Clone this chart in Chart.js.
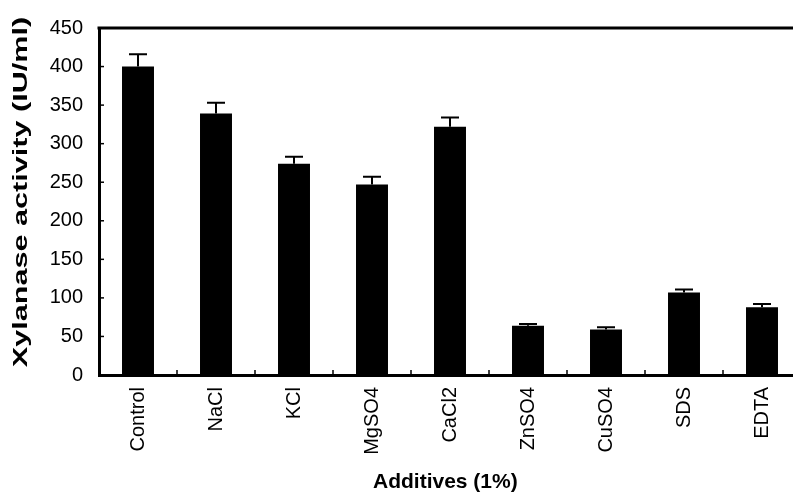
<!DOCTYPE html>
<html>
<head>
<meta charset="utf-8">
<script src="https://cdn.jsdelivr.net/npm/chart.js@4.4.1/dist/chart.umd.min.js"></script>
<style>
  html, body { margin: 0; padding: 0; background: #fff; overflow: hidden; }
  #wrap { width: 793px; height: 493px; overflow: hidden; }
</style>
</head>
<body>
<div id="wrap"><canvas id="chart" width="810" height="493"></canvas></div>
<script>
// ─── Data ─────────────────────────────────────────────────────────────────────
const categories = ['Control', 'NaCl', 'KCl', 'MgSO4', 'CaCl2', 'ZnSO4', 'CuSO4', 'SDS', 'EDTA'];
const activity   = [400, 339, 274, 247, 322, 64, 59, 107, 88];
const errorUp    = [16, 14, 9, 10, 12, 2, 3, 4, 4];
const yMax = 450;
const yStep = 50;

const FONT = '"Liberation Sans", Arial, sans-serif';

// ─── Error bars, inner tick marks, frame and titles ───────────────────────────
const decorations = {
  id: 'decorations',
  afterDatasetsDraw(chart) {
    const { ctx, chartArea: a, scales: { x, y } } = chart;
    const meta = chart.getDatasetMeta(0);
    ctx.save();
    ctx.strokeStyle = '#000';

    // error bars (upper only)
    ctx.lineWidth = 2;
    meta.data.forEach((bar, i) => {
      const top = y.getPixelForValue(activity[i] + errorUp[i]);
      ctx.beginPath();
      ctx.moveTo(bar.x, bar.y);
      ctx.lineTo(bar.x, top);
      ctx.moveTo(bar.x - 9, top);
      ctx.lineTo(bar.x + 9, top);
      ctx.stroke();
    });

    // inner ticks on y axis
    ctx.lineWidth = 1.5;
    y.ticks.forEach(t => {
      const py = y.getPixelForValue(t.value);
      ctx.beginPath();
      ctx.moveTo(a.left, py);
      ctx.lineTo(a.left + 5, py);
      ctx.stroke();
    });

    // inner ticks on x axis, between categories
    const half = (x.getPixelForValue(1) - x.getPixelForValue(0)) / 2;
    for (let i = 0; i < categories.length - 1; i++) {
      const px = x.getPixelForValue(i) + half;
      ctx.beginPath();
      ctx.moveTo(px, a.bottom);
      ctx.lineTo(px, a.bottom - 5);
      ctx.stroke();
    }

    // top and right frame
    ctx.lineWidth = 3;
    ctx.beginPath();
    ctx.moveTo(a.left - 1.5, a.top);
    ctx.lineTo(a.right, a.top);
    ctx.lineTo(a.right, a.bottom);
    ctx.stroke();
    ctx.restore();
  },
  afterDraw(chart) {
    const { ctx } = chart;
    ctx.save();
    ctx.fillStyle = '#000';
    ctx.textAlign = 'left';
    ctx.textBaseline = 'alphabetic';
    ctx.font = 'bold 21px ' + FONT;
    ctx.fillText('Additives (1%)', 373, 488);

    // y title is stretched along its length in the original
    ctx.textAlign = 'center';
    ctx.textBaseline = 'middle';
    ctx.font = 'bold 20px ' + FONT;
    ctx.translate(21, 192);
    ctx.rotate(-Math.PI / 2);
    ctx.scale(1.53, 1);
    ctx.fillText('Xylanase activity (IU/ml)', 0, 0);
    ctx.restore();
  }
};

// ─── Chart ────────────────────────────────────────────────────────────────────
new Chart(document.getElementById('chart').getContext('2d'), {
  type: 'bar',
  data: {
    labels: categories,
    datasets: [{
      data: activity,
      backgroundColor: '#000',
      borderWidth: 0,
      categoryPercentage: 1,
      barPercentage: 0.41,
    }],
  },
  options: {
    responsive: false,
    animation: false,
    devicePixelRatio: 1,
    layout: { padding: { top: 21, right: 9, left: 0, bottom: 0 } },
    plugins: { legend: { display: false }, tooltip: { enabled: false } },
    scales: {
      x: {
        grid: { display: false, drawTicks: false },
        border: { display: true, color: '#000', width: 3 },
        ticks: {
          autoSkip: false,
          minRotation: 90,
          maxRotation: 90,
          padding: 12,
          color: '#000',
          font: { family: FONT, size: 20 },
        },
        afterFit(s) { s.height = 118; },
      },
      y: {
        min: 0,
        max: yMax,
        grid: { display: false, drawTicks: false },
        border: { display: true, color: '#000', width: 3 },
        ticks: {
          stepSize: yStep,
          padding: 16,
          color: '#000',
          font: { family: FONT, size: 20 },
        },
        afterFit(s) { s.width = 99; },
      },
    },
  },
  plugins: [decorations],
});
</script>
</body>
</html>
